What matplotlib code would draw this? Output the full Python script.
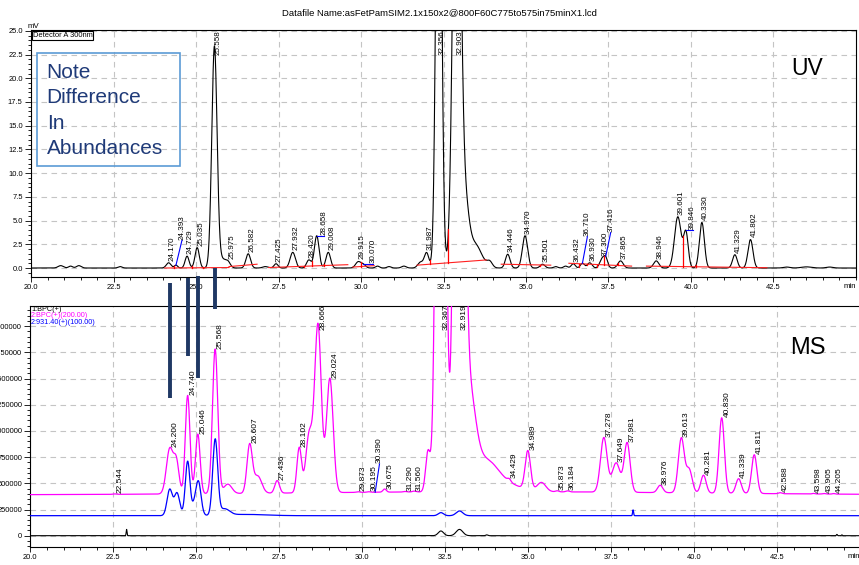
import numpy as np
import matplotlib.pyplot as plt
from matplotlib.patches import Rectangle
from matplotlib.ticker import MultipleLocator, FixedLocator
from matplotlib.transforms import blended_transform_factory

plt.rcParams['font.family'] = ['Liberation Sans', 'DejaVu Sans']

TITLE = "Datafile Name:asFetPamSIM2.1x150x2@800F60C775to575in75minX1.lcd"

# ---- UV trace (Detector A 300nm): retention time (min), apex (mV), width (min)
uv_rt = [20.9, 21.2, 21.45, 22.7, 24.170, 24.393, 24.729, 25.035, 25.558, 25.80,
         25.975, 26.582, 27.10, 27.425, 27.932, 28.420, 28.658, 29.008, 29.915,
         30.070, 30.50, 30.85, 31.30, 31.80, 31.987, 32.356, 32.903, 33.15, 33.45,
         33.90, 34.446, 34.970, 35.501, 35.90, 36.20, 36.432, 36.710, 36.930,
         37.300, 37.416, 37.865, 38.946, 39.601, 39.846, 40.330, 41.329, 41.802,
         42.90, 43.50, 44.20]
uv_height = [0.25, 0.2, 0.25, 0.15, 0.55, 0.3, 1.25, 2.15, 23.3, 0.9,
             0.45, 1.5, 0.15, 0.45, 1.65, 0.85, 3.4, 1.65, 0.65,
             0.35, 0.2, 0.15, 0.2, 0.6, 1.6, 60.0, 60.0, 6.0, 2.5,
             0.6, 1.45, 3.4, 0.4, 0.15, 0.2, 0.45, 0.5, 0.55,
             0.9, 1.0, 0.75, 0.75, 5.4, 3.7, 4.8, 1.4, 3.0,
             0.1, 0.12, 0.1]
uv_width = [0.08, 0.06, 0.07, 0.06, 0.07, 0.05, 0.06, 0.065, 0.08, 0.12,
            0.07, 0.07, 0.08, 0.06, 0.08, 0.07, 0.07, 0.07, 0.08,
            0.07, 0.06, 0.06, 0.07, 0.08, 0.07, 0.08, 0.109, 0.12, 0.2,
            0.08, 0.07, 0.08, 0.07, 0.06, 0.06, 0.06, 0.06, 0.07,
            0.07, 0.06, 0.08, 0.08, 0.1, 0.07, 0.075, 0.07, 0.075,
            0.1, 0.15, 0.1]

uv_labels = ["24.170", "24.393", "24.729", "25.035", "25.558", "25.975", "26.582",
             "27.425", "27.932", "28.420", "28.658", "29.008", "29.915", "30.070",
             "31.987", "32.356", "32.903", "34.446", "34.970", "35.501", "36.432",
             "36.710", "36.930", "37.300", "37.416", "37.865", "38.946", "39.601",
             "39.846", "40.330", "41.329", "41.802"]

# integration baselines: start time, start mV, end time, end mV
uv_base_t0 = [24.05, 26.00, 27.20, 29.75, 31.70, 34.25, 36.30, 38.65]
uv_base_v0 = [0.00, 0.15, 0.05, 0.10, 0.30, 0.40, 0.50, 0.20]
uv_base_t1 = [26.00, 26.85, 29.60, 30.40, 33.80, 35.75, 38.20, 42.30]
uv_base_v1 = [0.05, 0.40, 0.35, 0.25, 0.85, 0.30, 0.20, 0.03]
# peak separation drop lines
uv_drop_t = [24.34, 24.89, 25.21, 28.28, 28.51, 28.89, 30.00, 32.10, 32.65,
             35.43, 36.60, 36.85, 37.15, 37.37, 37.79, 39.77, 40.15, 41.60]
# labels moved off their peak: (shift in min, shift in mV)
uv_leaders = {"24.393": (0.18, 2.6), "28.658": (0.22, 0.0), "30.070": (0.30, 0.0),
              "36.710": (0.15, 2.8), "37.416": (0.15, 2.5), "39.846": (0.20, 0.0)}

# ---- MS traces: 2:BPC(+)(200.00) magenta, 2:931.40(+)(100.00) blue, 1:BPC(+) black
ms_mag_offset = 390000
ms_mag_rt = [34.0, 22.544, 24.200, 24.40, 24.740, 25.046, 25.568, 25.95, 26.607,
             26.85, 27.436, 28.102, 28.40, 28.666, 29.024, 29.873, 30.195, 30.675,
             31.290, 31.560, 31.98, 32.367, 32.919, 33.20, 33.70, 34.20, 34.429,
             34.989, 35.40, 35.873, 36.184, 37.278, 37.649, 37.981, 38.976, 39.613,
             39.85, 40.281, 40.830, 41.339, 41.811, 42.588, 43.598, 43.905, 44.205]
ms_mag_height = [30000, 4000, 430000, 300000, 940000, 570000, 1380000, 90000, 455000,
                 165000, 120000, 430000, 550000, 1600000, 1090000, 6000, 5000, 30000,
                 5000, 8000, 380000, 10000000, 10000000, 900000, 250000, 80000, 25000,
                 370000, 85000, 10000, 10000, 520000, 280000, 470000, 70000, 520000,
                 220000, 170000, 720000, 140000, 370000, 10000, 5000, 5000, 5000]
ms_mag_width = [6.0, 0.05, 0.1, 0.08, 0.07, 0.07, 0.08, 0.12, 0.08,
                0.12, 0.07, 0.07, 0.1, 0.1, 0.1, 0.05, 0.05, 0.05,
                0.05, 0.05, 0.07, 0.11, 0.12, 0.2, 0.35, 0.5, 0.05,
                0.08, 0.13, 0.05, 0.05, 0.1, 0.12, 0.09, 0.08, 0.09,
                0.09, 0.08, 0.08, 0.08, 0.08, 0.05, 0.04, 0.04, 0.04]
ms_labels = ["22.544", "24.200", "24.740", "25.046", "25.568", "26.607", "27.436",
             "28.102", "28.666", "29.024", "29.873", "30.195", "30.390", "30.675",
             "31.290", "31.560", "32.367", "32.919", "34.429", "34.989", "35.873",
             "36.184", "37.278", "37.649", "37.981", "38.976", "39.613", "40.281",
             "40.830", "41.339", "41.811", "42.588", "43.598", "43.905", "44.205"]
ms_leaders = {"30.390": (0.13, 270000)}

ms_blue_offset = 191000
ms_blue_rt = [24.20, 24.42, 24.74, 24.92, 25.06, 25.57, 25.85, 26.5, 32.37, 32.93, 38.16]
ms_blue_height = [250000, 215000, 520000, 60000, 330000, 720000, 60000, 12000,
                  29000, 45000, 55000]
ms_blue_width = [0.08, 0.08, 0.07, 0.06, 0.08, 0.075, 0.15, 0.6, 0.08, 0.1, 0.015]

ms_blk_rt = [22.90, 32.37, 32.93, 33.75, 44.30, 44.45]
ms_blk_height = [60000, 45000, 60000, 8000, 12000, 8000]
ms_blk_width = [0.012, 0.08, 0.1, 0.03, 0.015, 0.015]

# analyst marks tying UV peaks to MS peaks
link_rt = [24.200, 24.740, 25.046, 25.568]
link_top = [0.4986, 0.5074, 0.5115, 0.5251]
link_bottom = [0.2950, 0.3704, 0.3315, 0.4531]


def chrom(t, rt, height, width):
    rt, height, width = (np.asarray(a, float)[:, None] for a in (rt, height, width))
    return (height * np.exp(-0.5 * ((t[None, :] - rt) / width) ** 2)).sum(axis=0)


t = np.linspace(20, 45.2, 6301)
uv = chrom(t, uv_rt, uv_height, uv_width)
ms_mag = ms_mag_offset + chrom(t, ms_mag_rt, ms_mag_height, ms_mag_width)
ms_blue = ms_blue_offset + chrom(t, ms_blue_rt, ms_blue_height, ms_blue_width)
ms_blk = chrom(t, ms_blk_rt, ms_blk_height, ms_blk_width)

fig = plt.figure(figsize=(8.59, 5.65), dpi=100)
ax_uv = fig.add_axes([0.0361, 0.5097, 0.9604, 0.4366])
ax_ms = fig.add_axes([0.0353, 0.0324, 0.9660, 0.4265])
fig.text(0.512, 0.978, TITLE, ha='center', va='center', fontsize=6.8)

for ax in (ax_uv, ax_ms):
    ax.set_xlim(20, 45)
    ax.xaxis.set_major_locator(FixedLocator(np.arange(20, 42.6, 2.5)))
    ax.xaxis.set_minor_locator(MultipleLocator(0.5))
    ax.xaxis.set_major_formatter(lambda v, p: f"{v:.1f}")
    ax.grid(True, which='major', ls=(0, (5, 4)), color='#c4c4c4', lw=0.8)
    ax.set_axisbelow(True)
    ax.tick_params(which='both', direction='out', width=0.6, labelsize=5.4, pad=1.5)
    ax.tick_params(axis='x', which='major', length=3.5)
    ax.tick_params(axis='x', which='minor', length=2.2)
    ax.tick_params(axis='y', which='major', length=4.5)
    ax.tick_params(axis='y', which='minor', length=2.2)
    for s in ax.spines.values():
        s.set_linewidth(0.8)
    ax.text(0.9995, -0.025, "min", transform=ax.transAxes, ha='right', va='top',
            fontsize=5.6)

# ---- UV panel
ax = ax_uv
ax.set_ylim(-0.95, 25.05)
ax.yaxis.set_major_locator(MultipleLocator(2.5))
ax.yaxis.set_minor_locator(MultipleLocator(0.5))
ax.yaxis.set_major_formatter(lambda v, p: f"{v:.1f}")
ax.plot(t, uv, color='black', lw=0.8, zorder=3)

for t0, v0, t1, v1 in zip(uv_base_t0, uv_base_v0, uv_base_t1, uv_base_v1):
    ax.plot([t0, t1], [v0, v1], color='#ff2020', lw=0.8, zorder=4)
base_t = np.ravel(list(zip(uv_base_t0, uv_base_t1)))
base_v = np.ravel(list(zip(uv_base_v0, uv_base_v1)))
for td in uv_drop_t:
    ax.plot([td, td], [np.interp(td, base_t, base_v), np.interp(td, t, uv)],
            color='#ff0000', lw=0.9, zorder=4)

for lab in uv_labels:
    rt = float(lab)
    y = np.interp(rt, t, uv)
    if lab in uv_leaders:
        dt, dv = uv_leaders[lab]
        ax.plot([rt, rt + dt], [y, y + dv], color='#0000ff', lw=0.8, zorder=4)
        ax.annotate(lab, (rt + dt, y + dv), xytext=(0, 0.5), textcoords='offset points',
                    rotation=90, ha='center', va='bottom', fontsize=5.8)
    else:
        ax.annotate(lab, (rt, min(y, 22.2)), xytext=(0, 1.5), textcoords='offset points',
                    rotation=90, ha='left', va='bottom', fontsize=5.8)

ax.text(-0.004, 1.0, "mV", transform=ax.transAxes, ha='left', va='bottom', fontsize=5.6)
ax.text(0.002, 0.992, "Detector A 300nm", transform=ax.transAxes, ha='left', va='top',
        fontsize=5.4, bbox=dict(boxstyle='square,pad=0.12', fc='white', ec='black',
                                lw=0.8), zorder=6)
ax.add_patch(Rectangle((0.0069, 0.45), 0.1737, 0.457, transform=ax.transAxes,
                       fill=False, ec='#5b9bd5', lw=1.2, zorder=6))
ax.text(0.019, 0.868, "Note\nDifference\nIn\nAbundances", transform=ax.transAxes,
        ha='left', va='top', fontsize=15, linespacing=1.42, color='#1f3a78', zorder=6)
ax.text(0.9406, 0.847, "UV", transform=ax.transAxes, ha='center', va='center',
        fontsize=16.5)

# ---- MS panel
ax = ax_ms
ax.set_ylim(-105000, 2195000)
ax.yaxis.set_major_locator(MultipleLocator(250000))
ax.yaxis.set_minor_locator(MultipleLocator(50000))
ax.yaxis.set_major_formatter(lambda v, p: f"{v:.0f}")
ax.plot(t, ms_blk, color='black', lw=0.8, zorder=3)
ax.plot(t, ms_blue, color='#0000ff', lw=0.9, zorder=3)
ax.plot(t, ms_mag, color='#ff00ff', lw=0.9, zorder=3)

for lab in ms_labels:
    rt = float(lab)
    y = np.interp(rt, t, ms_mag)
    if lab in ms_leaders:
        dt, dv = ms_leaders[lab]
        ax.plot([rt, rt + dt], [y, y + dv], color='#0000ff', lw=0.8, zorder=4)
        ax.annotate(lab, (rt + dt, y + dv), xytext=(0, 0.5), textcoords='offset points',
                    rotation=90, ha='center', va='bottom', fontsize=6)
    else:
        ax.annotate(lab, (rt, min(y, 1960000)), xytext=(1.2, 0.3),
                    textcoords='offset points', rotation=90, ha='left', va='bottom',
                    fontsize=6)

for i, (txt, col) in enumerate([("1:BPC(+)", 'black'), ("2:BPC(+)(200.00)", '#ff00ff'),
                                ("2:931.40(+)(100.00)", '#0000ff')]):
    ax.text(0.001, 1 - (3.3 + 6.8 * i) / 241, txt, transform=ax.transAxes, ha='left',
            va='center', fontsize=5.2, color=col)
ax.text(0.937, 0.8245, "MS", transform=ax.transAxes, ha='center', va='center',
        fontsize=17)

trans = blended_transform_factory(ax_ms.transData, fig.transFigure)
for rt, y0, y1 in zip(link_rt, link_top, link_bottom):
    fig.add_artist(plt.Line2D([rt, rt], [y0, y1], transform=trans, color='#1f3864',
                              lw=2.8, solid_capstyle='butt'))

fig.savefig("out.png", dpi=100)
